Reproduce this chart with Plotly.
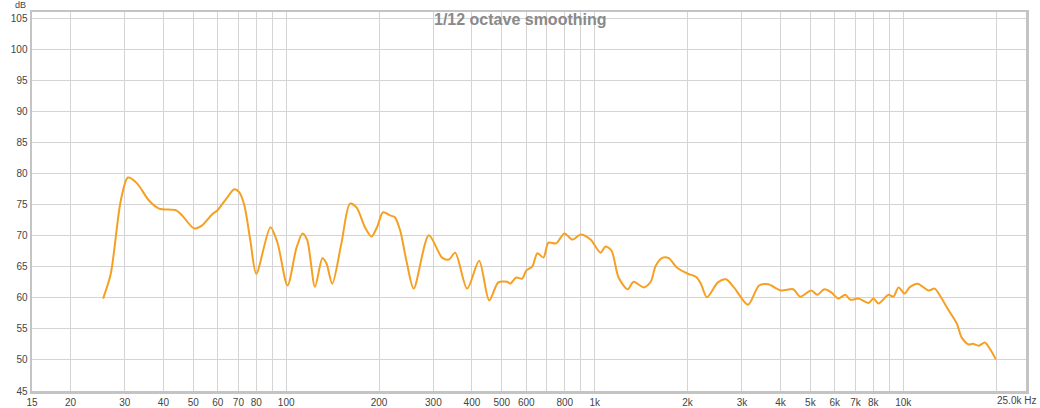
import plotly.graph_objects as go

freq_hz = [25.5, 27.0, 29.1, 30.7, 32.8, 35.9, 38.7, 44.0, 46.0, 50.3, 53.4, 57.6, 59.8, 64.0,
           67.9, 70.5, 73.2, 76.5, 80.0, 88.9, 93.7, 101, 108, 113, 117, 124, 131, 135, 141,
           151, 161, 169, 180, 189, 197, 206, 217, 225, 234, 246, 259, 290, 320, 337, 353,
           386, 422, 455, 487, 521, 532, 557, 582, 600, 628, 652, 682, 708, 751, 797, 847,
           899, 969, 1044, 1084, 1134, 1195, 1279, 1337, 1441, 1519, 1577, 1662, 1738, 1845,
           2004, 2127, 2209, 2310, 2508, 2663, 2828, 3140, 3410, 3648, 4020, 4399, 4636,
           5034, 5265, 5548, 5846, 6160, 6493, 6741, 7155, 7714, 8008, 8313, 8960, 9299,
           9654, 10097, 10480, 11130, 12090, 12640, 13220, 14040, 14910, 15480, 16310,
           16810, 17580, 18390, 19090, 19960]
level_db = [59.9, 63.9, 75.7, 79.4, 78.5, 75.7, 74.4, 74.1, 73.3, 71.2, 71.7, 73.5, 74.1, 76.0,
            77.5, 77.0, 74.9, 69.3, 63.9, 71.4, 68.9, 62.0, 68.1, 70.4, 69.3, 61.8, 66.4, 65.6,
            62.3, 68.8, 75.2, 74.6, 71.4, 69.9, 71.4, 73.8, 73.3, 73.0, 70.9, 65.7, 61.5, 70.1,
            66.5, 66.2, 67.3, 61.5, 66.0, 59.6, 62.5, 62.6, 62.3, 63.3, 63.1, 64.4, 65.1, 67.2,
            66.5, 68.9, 68.8, 70.4, 69.4, 70.2, 69.4, 67.3, 68.3, 67.6, 63.3, 61.4, 62.6, 61.7,
            62.6, 65.2, 66.5, 66.4, 64.9, 63.9, 63.4, 62.3, 60.1, 62.5, 63.0, 61.7, 58.9, 62.0,
            62.2, 61.2, 61.4, 60.2, 61.2, 60.5, 61.4, 60.9, 59.9, 60.5, 59.7, 59.9, 59.2, 59.9,
            59.1, 60.5, 60.2, 61.7, 60.7, 61.7, 62.3, 61.2, 61.5, 60.2, 58.0, 55.9, 53.6, 52.5,
            52.6, 52.3, 52.8, 51.8, 50.1]

x_tick_vals = [15, 20, 30, 40, 50, 60, 70, 80, 90, 100, 200, 300, 400, 500, 600, 700, 800, 900,
               1000, 2000, 3000, 4000, 5000, 6000, 7000, 8000, 9000, 10000, 20000]
x_tick_text = ["15", "20", "30", "40", "50", "60", "70", "80", "", "100", "200", "300", "400",
               "500", "600", "", "800", "", "1k", "2k", "3k", "4k", "5k", "6k", "7k", "8k", "",
               "10k", ""]
x_end_label = "25.0k Hz"
y_tick_vals = [45, 50, 55, 60, 65, 70, 75, 80, 85, 90, 95, 100, 105]

fig = go.Figure()
fig.add_trace(go.Scatter(
    x=freq_hz, y=level_db, mode="lines",
    line=dict(color="#F5A023", width=2, shape="spline", smoothing=0.8),
    hoverinfo="skip", showlegend=False,
))

fig.update_layout(
    width=1040, height=408,
    margin=dict(l=32, r=14, t=12, b=17, autoexpand=False),
    paper_bgcolor="white", plot_bgcolor="white",
    font=dict(family="Liberation Sans, Arial, sans-serif", size=10, color="#444444"),
    xaxis=dict(
        type="log", range=[1.17609, 4.39794],
        tickvals=x_tick_vals, ticktext=x_tick_text,
        showgrid=True, gridcolor="#d4d4d4", gridwidth=1,
        showline=True, mirror=True, linecolor="#c4c4c4", linewidth=2.5,
        ticks="", zeroline=False, automargin=False,
        tickfont=dict(size=10, color="#444444"),
    ),
    yaxis=dict(
        range=[45, 106.08],
        tickvals=y_tick_vals,
        showgrid=True, gridcolor="#d4d4d4", gridwidth=1,
        showline=True, mirror=True, linecolor="#c4c4c4", linewidth=2.5,
        ticks="", zeroline=False, automargin=False,
        tickfont=dict(size=10, color="#444444"),
    ),
    annotations=[
        dict(text="<b>1/12 octave smoothing</b>", xref="paper", yref="paper",
             x=0.491, y=0.979, xanchor="center", yanchor="middle", showarrow=False,
             font=dict(size=16, color="#8a8a8a", family="Liberation Sans, Arial, sans-serif")),
        dict(text="dB", xref="paper", yref="paper", x=-0.012, y=1.018,
             xanchor="center", yanchor="middle", showarrow=False,
             font=dict(size=9, color="#444444")),
        dict(text=x_end_label, xref="paper", yref="paper", x=1.0125, y=-0.026,
             xanchor="right", yanchor="middle", showarrow=False,
             font=dict(size=10, color="#444444")),
    ],
)

fig.write_html("out.html", config={"displayModeBar": False, "staticPlot": True},
               post_script="document.body.style.margin='0px';document.body.style.overflow='hidden';")
